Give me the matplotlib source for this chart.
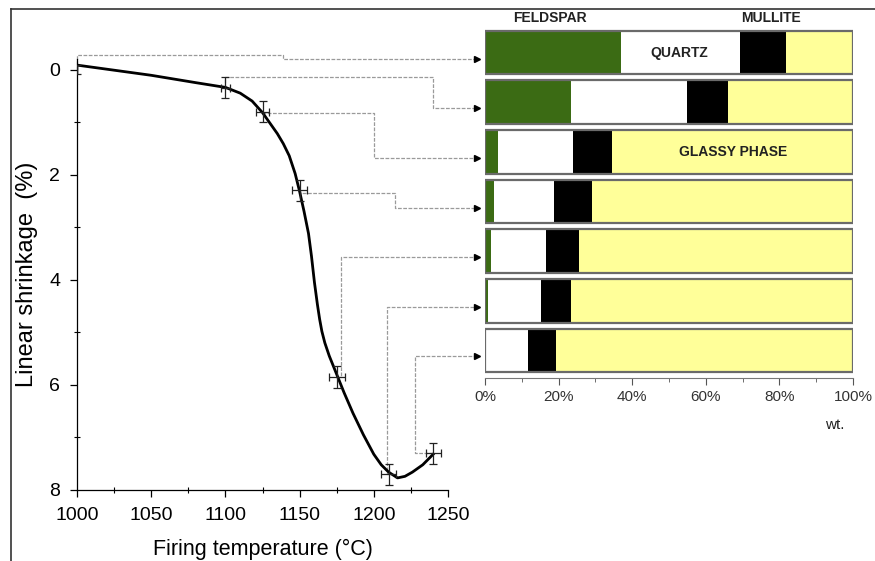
# plot.py
# 烧成温度-线收缩曲线 + 各温度下的物相组成条形图

import matplotlib
matplotlib.use('Agg')
import matplotlib.pyplot as plt
from matplotlib.lines import Line2D
import numpy as np

plt.rcParams['font.family'] = ['Liberation Sans', 'DejaVu Sans']

# -----------------数据
temps = [1000, 1100, 1125, 1150, 1175, 1210, 1240]        # 烧成温度 (°C)
shrink = [0.0, 0.35, 0.8, 2.3, 5.85, 7.7, 7.3]            # 线收缩 (%)
shrink_err = [0.08, 0.2, 0.2, 0.2, 0.2, 0.2, 0.2]
temp_err = [0, 3, 4.5, 5, 5.5, 5, 5]

# 平滑拟合曲线上的读点
curve_T = [1001, 1050, 1080, 1100, 1110, 1118, 1125, 1130, 1135, 1139, 1143,
           1147, 1150, 1153, 1156, 1158, 1160, 1162, 1163.5, 1165, 1167, 1170,
           1175, 1180, 1186, 1193, 1200, 1205, 1210, 1216, 1221, 1226, 1233, 1240]
curve_S = [-0.08, 0.11, 0.25, 0.34, 0.45, 0.6, 0.82, 1.02, 1.22, 1.41, 1.64,
           1.98, 2.32, 2.7, 3.12, 3.55, 4.05, 4.47, 4.75, 4.98, 5.2, 5.45,
           5.8, 6.15, 6.54, 6.95, 7.32, 7.52, 7.66, 7.77, 7.74, 7.66, 7.52, 7.32]

# 物相组成 wt.%（每行对应一个温度）
feldspar = [37.0, 23.3, 3.4, 2.4, 1.5, 0.9, 0.0]
quartz = [32.3, 31.7, 20.4, 16.4, 15.0, 14.3, 11.8]
mullite = [12.5, 11.0, 10.6, 10.4, 9.1, 8.3, 7.5]
glassy = [100 - f - q - m for f, q, m in zip(feldspar, quartz, mullite)]

pct_ticks = [0, 20, 40, 60, 80, 100]

# 连接线的拐点（温度）与第一段水平线高度（收缩值）
bend_T = [1139, 1240, 1200, 1214, 1178, 1209, 1228]
rise_S = [-0.27, 0.15, 0.82, 2.34, 5.85, 7.7, 7.3]

# -----------------画布
W, H = 875, 561
fig = plt.figure(figsize=(W / 100, H / 100), dpi=100, facecolor='white')

# 外框（左、上）
fig.add_artist(Line2D([11 / W, 11 / W], [0, 1 - 9 / H], transform=fig.transFigure, color='#333333', lw=1.2))
fig.add_artist(Line2D([11 / W, 1], [1 - 9 / H, 1 - 9 / H], transform=fig.transFigure, color='#333333', lw=1.2))

# -----------------左图：收缩曲线
ax1 = fig.add_axes([77 / W, 71 / H, 371 / W, 431 / H])
ax1.plot(curve_T, curve_S, color='black', lw=2.0, solid_joinstyle='round', zorder=3)
ax1.errorbar(temps, shrink, yerr=shrink_err, xerr=temp_err, fmt='none',
             ecolor='#222222', elinewidth=0.9, capsize=3, capthick=0.9, zorder=4)
ax1.set_xlim(1000, 1250)
ax1.set_ylim(8, -0.2)
ax1.set_xticks([1000, 1050, 1100, 1150, 1200, 1250])
ax1.set_xticks([1025, 1075, 1125, 1175, 1225], minor=True)
ax1.set_yticks([0, 2, 4, 6, 8])
ax1.set_yticks([1, 3, 5, 7], minor=True)
ax1.tick_params(which='major', direction='out', length=5, width=0.9, labelsize=14, pad=7)
ax1.tick_params(which='minor', direction='inout', length=4, width=0.8)
for s in ['top', 'right']:
    ax1.spines[s].set_visible(False)
for s in ['left', 'bottom']:
    ax1.spines[s].set_linewidth(0.9)
ax1.set_xlabel('Firing temperature (°C)', fontsize=15.5, labelpad=11)
ax1.set_ylabel('Linear shrinkage  (%)', fontsize=17, labelpad=8)

# -----------------右图：组成条形图
ax2 = fig.add_axes([485 / W, (H - 377.8) / H, 368 / W, 350 / H])
ypos = np.arange(len(feldspar))
left = np.zeros(len(feldspar))
for vals, col in [(feldspar, '#3b6b14'), (quartz, 'white'), (mullite, 'black'), (glassy, '#ffff99')]:
    ax2.barh(ypos, vals, left=left, height=0.88, color=col, edgecolor='none', zorder=2)
    left += np.array(vals)
ax2.barh(ypos, [100] * len(ypos), height=0.88, fill=False, edgecolor='#6a6a6a', lw=1.6, zorder=3)
ax2.set_xlim(0, 100)
ax2.set_ylim(6.55, -0.5)
ax2.set_yticks([])
ax2.set_xticks(pct_ticks)
ax2.set_xticklabels(['%d%%' % p for p in pct_ticks])
ax2.set_xticks([10, 30, 50, 70, 90], minor=True)
ax2.tick_params(which='major', direction='out', length=5, color='#555555', labelsize=11, labelcolor='#333333')
ax2.tick_params(which='minor', direction='out', length=3, color='#555555')
for s in ['top', 'right', 'left']:
    ax2.spines[s].set_visible(False)
ax2.spines['bottom'].set_color('#777777')
ax2.spines['bottom'].set_linewidth(0.8)
ax2.patch.set_alpha(0)

bold = dict(fontsize=10, fontweight='bold', color='#222222', ha='center', va='center')
ax2.text(17.7, -0.7, 'FELDSPAR', **bold)
ax2.text(77.7, -0.7, 'MULLITE', **bold)
ax2.text(52.7, 0.0, 'QUARTZ', **bold)
ax2.text(67.5, 2.0, 'GLASSY PHASE', **bold)
ax2.text(95, 7.5, 'wt.', fontsize=11, color='#222222', ha='center', va='center')

# -----------------连接线（曲线上的点 → 对应条形）
to1 = ax1.transData
to2 = ax2.transData
inv1 = ax1.transData.inverted()
for i in range(len(temps)):
    level = to2.transform((0, i + 0.12))          # 条形左端、略低于中心
    p0 = to1.transform((temps[i], shrink[i]))
    p1 = to1.transform((temps[i], rise_S[i]))
    p2 = to1.transform((bend_T[i], rise_S[i]))
    p3 = (p2[0], level[1])
    p4 = (level[0] - 8, level[1])
    pts = inv1.transform(np.array([p0, p1, p2, p3, p4]))
    ax1.plot(pts[:, 0], pts[:, 1], color='#9a9a9a', lw=0.9, ls=(0, (3, 1.2)), clip_on=False, zorder=1)
    ax1.plot([pts[-1, 0]], [pts[-1, 1]], marker='>', ms=5, color='black', clip_on=False, zorder=5)

fig.savefig('out.png', dpi=100, facecolor='white')
